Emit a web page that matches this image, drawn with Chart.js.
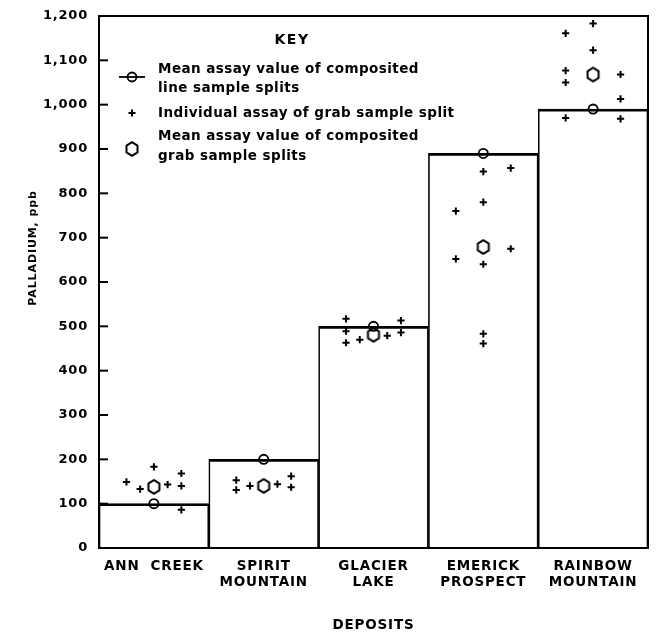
<!DOCTYPE html>
<html>
<head>
<meta charset="utf-8">
<script src="https://cdn.jsdelivr.net/npm/chart.js@4.4.1/dist/chart.umd.min.js"></script>
<style>
html,body{margin:0;padding:0;background:#fff;}
#wrap{width:656px;height:632px;position:relative;}
</style>
</head>
<body>
<div id="wrap"><canvas id="c" width="656" height="632"></canvas></div>
<script>
// ---- data ----
const deposits = ['ANN  CREEK', ['SPIRIT', 'MOUNTAIN'], ['GLACIER', 'LAKE'], ['EMERICK', 'PROSPECT'], ['RAINBOW', 'MOUNTAIN']];
const yTicks = [0, 100, 200, 300, 400, 500, 600, 700, 800, 900, 1000, 1100, 1200];
// mean assay value of composited line sample splits (ppb)
const lineMean = [100, 200, 500, 890, 990];
// mean assay value of composited grab sample splits (ppb)
const grabMean = [138, 140, 481, 679, 1068];
// individual assays of grab sample splits (ppb), with the column they are plotted in (-2..2)
const annCreekGrab = [149, 133, 183, 143, 168, 140, 86];
const annCreekCol  = [-2, -1, 0, 1, 2, 2, 2];
const spiritGrab = [153, 131, 140, 144, 162, 137];
const spiritCol  = [-2, -2, -1, 1, 2, 2];
const glacierGrab = [517, 489, 463, 470, 479, 513, 486];
const glacierCol  = [-2, -2, -2, -1, 1, 2, 2];
const emerickGrab = [849, 857, 780, 760, 675, 652, 640, 483, 461];
const emerickCol  = [0, 2, 0, -2, 2, -2, 0, 0, 0];
const rainbowGrab = [1183, 1161, 1123, 1077, 1050, 1068, 1013, 970, 968];
const rainbowCol  = [0, -2, 0, -2, -2, 2, 2, -2, 2];

const grabSets = [[annCreekGrab, annCreekCol], [spiritGrab, spiritCol], [glacierGrab, glacierCol], [emerickGrab, emerickCol], [rainbowGrab, rainbowCol]];
const COL_STEP = 0.125;
const grabPoints = [];
grabSets.forEach(([vals, cols], i) => vals.forEach((v, k) => grabPoints.push({x: i + cols[k] * COL_STEP, y: v})));
const lineMeanPoints = lineMean.map((v, i) => ({x: i, y: v}));
const grabMeanPoints = grabMean.map((v, i) => ({x: i, y: v}));

const FONT = "'DejaVu Sans', sans-serif";

// hexagon marker
function makeHex() {
  const c = document.createElement('canvas');
  c.width = 16; c.height = 18;
  const g = c.getContext('2d');
  const cx = 8, cy = 9, hw = 5.5, hh = 6.8;
  g.beginPath();
  g.moveTo(cx, cy - hh);
  g.lineTo(cx + hw, cy - hh / 2);
  g.lineTo(cx + hw, cy + hh / 2);
  g.lineTo(cx, cy + hh);
  g.lineTo(cx - hw, cy + hh / 2);
  g.lineTo(cx - hw, cy - hh / 2);
  g.closePath();
  g.fillStyle = '#fff';
  g.fill();
  g.lineWidth = 2;
  g.lineJoin = 'round';
  g.strokeStyle = '#000';
  g.stroke();
  return c;
}
const hexImg = makeHex();

const spacingPlugin = {
  id: 'spacing',
  beforeDraw(chart) { chart.ctx.letterSpacing = '0.8px'; }
};

const framePlugin = {
  id: 'frame',
  afterDraw(chart) {
    const {ctx, chartArea: a, scales: {y}} = chart;
    ctx.save();
    ctx.strokeStyle = '#000';
    ctx.lineWidth = 2;
    ctx.strokeRect(a.left, a.top, a.right - a.left, a.bottom - a.top);
    // inward tick marks
    y.ticks.forEach(t => {
      const py = y.getPixelForValue(t.value);
      ctx.beginPath();
      ctx.moveTo(a.left, py);
      ctx.lineTo(a.left + 9, py);
      ctx.stroke();
    });
    // y axis title
    ctx.fillStyle = '#000';
    ctx.font = 'bold 11px ' + FONT;
    ctx.letterSpacing = '0.9px';
    ctx.textAlign = 'center';
    ctx.textBaseline = 'middle';
    ctx.translate(33, 248);
    ctx.rotate(-Math.PI / 2);
    ctx.fillText('PALLADIUM, ppb', 0, 0);
    ctx.restore();
  }
};

const keyPlugin = {
  id: 'key',
  afterDraw(chart) {
    const ctx = chart.ctx;
    ctx.save();
    ctx.fillStyle = '#000';
    ctx.strokeStyle = '#000';
    ctx.textBaseline = 'middle';
    ctx.letterSpacing = '1.5px';
    ctx.font = 'bold 14px ' + FONT;
    ctx.textAlign = 'center';
    ctx.fillText('KEY', 292, 40);
    ctx.textAlign = 'left';
    ctx.letterSpacing = '0.45px';
    ctx.font = 'bold 13.5px ' + FONT;
    const tx = 158;
    ctx.fillText('Mean assay value of composited', tx, 69);
    ctx.fillText('line sample splits', tx, 88);
    ctx.fillText('Individual assay of grab sample split', tx, 113);
    ctx.fillText('Mean assay value of composited', tx, 136);
    ctx.fillText('grab sample splits', tx, 156);
    // symbols
    ctx.lineWidth = 1.8;
    ctx.beginPath(); ctx.moveTo(119, 77); ctx.lineTo(145, 77); ctx.stroke();
    ctx.beginPath(); ctx.arc(132, 77, 4.5, 0, Math.PI * 2); ctx.stroke();
    ctx.lineWidth = 2;
    ctx.beginPath(); ctx.moveTo(128.5, 113); ctx.lineTo(135.5, 113); ctx.moveTo(132, 109.5); ctx.lineTo(132, 116.5); ctx.stroke();
    ctx.drawImage(hexImg, 132 - 8, 149 - 9);
    ctx.restore();
  }
};

new Chart(document.getElementById('c'), {
  data: {
    labels: deposits,
    datasets: [
      {
        type: 'scatter', label: 'Mean assay value of composited line sample splits',
        data: lineMeanPoints, xAxisID: 'xs', yAxisID: 'y', order: 0,
        pointStyle: 'circle', pointRadius: 4.6, pointBorderWidth: 1.8,
        pointBorderColor: '#000', pointBackgroundColor: 'rgba(0,0,0,0)'
      },
      {
        type: 'scatter', label: 'Mean assay value of composited grab sample splits',
        data: grabMeanPoints, xAxisID: 'xs', yAxisID: 'y', order: 1,
        pointStyle: hexImg, pointRadius: 7
      },
      {
        type: 'scatter', label: 'Individual assay of grab sample split',
        data: grabPoints, xAxisID: 'xs', yAxisID: 'y', order: 2,
        pointStyle: 'cross', pointRadius: 3.6, pointBorderWidth: 2,
        pointBorderColor: '#000'
      },
      {
        type: 'bar', label: 'Line sample mean',
        data: lineMean, xAxisID: 'x', yAxisID: 'y', order: 3,
        backgroundColor: 'rgba(0,0,0,0)', borderColor: '#000',
        borderWidth: {top: 2, left: 1, right: 1, bottom: 0},
        borderSkipped: false, grouped: false,
        barPercentage: 1, categoryPercentage: 1
      }
    ]
  },
  options: {
    responsive: false,
    animation: false,
    devicePixelRatio: 1,
    layout: {padding: {top: 16, right: 4, left: 0, bottom: 0}},
    plugins: {legend: {display: false}, tooltip: {enabled: false}},
    scales: {
      x: {
        type: 'category', position: 'bottom', offset: true,
        grid: {display: false, drawTicks: false, offset: true},
        border: {display: true, color: '#000', width: 2},
        ticks: {color: '#000', font: {family: FONT, size: 13.5, weight: 'bold'}, padding: 10, maxRotation: 0, autoSkip: false},
        title: {display: true, text: 'DEPOSITS', color: '#000', font: {family: FONT, size: 13.5, weight: 'bold'}, padding: {top: 0, bottom: -2}},
        afterFit(s) { s.height = 84; s.paddingLeft = 0; s.paddingRight = 0; }
      },
      xs: {
        type: 'linear', display: false, min: -0.5, max: 4.5,
        afterFit(s) { s.height = 0; s.paddingLeft = 0; s.paddingRight = 0; }
      },
      y: {
        type: 'linear', min: 0, max: 1200,
        afterBuildTicks(s) { s.ticks = yTicks.map(v => ({value: v})); },
        grid: {display: false, drawTicks: false},
        border: {display: true, color: '#000', width: 2},
        ticks: {color: '#000', font: {family: FONT, size: 13, weight: 'bold'}, padding: 11,
          callback: v => v.toLocaleString('en-US')},
        afterFit(s) { s.width = 99; s.paddingTop = 0; s.paddingBottom = 0; }
      }
    }
  },
  plugins: [spacingPlugin, framePlugin, keyPlugin]
});
</script>
</body>
</html>
